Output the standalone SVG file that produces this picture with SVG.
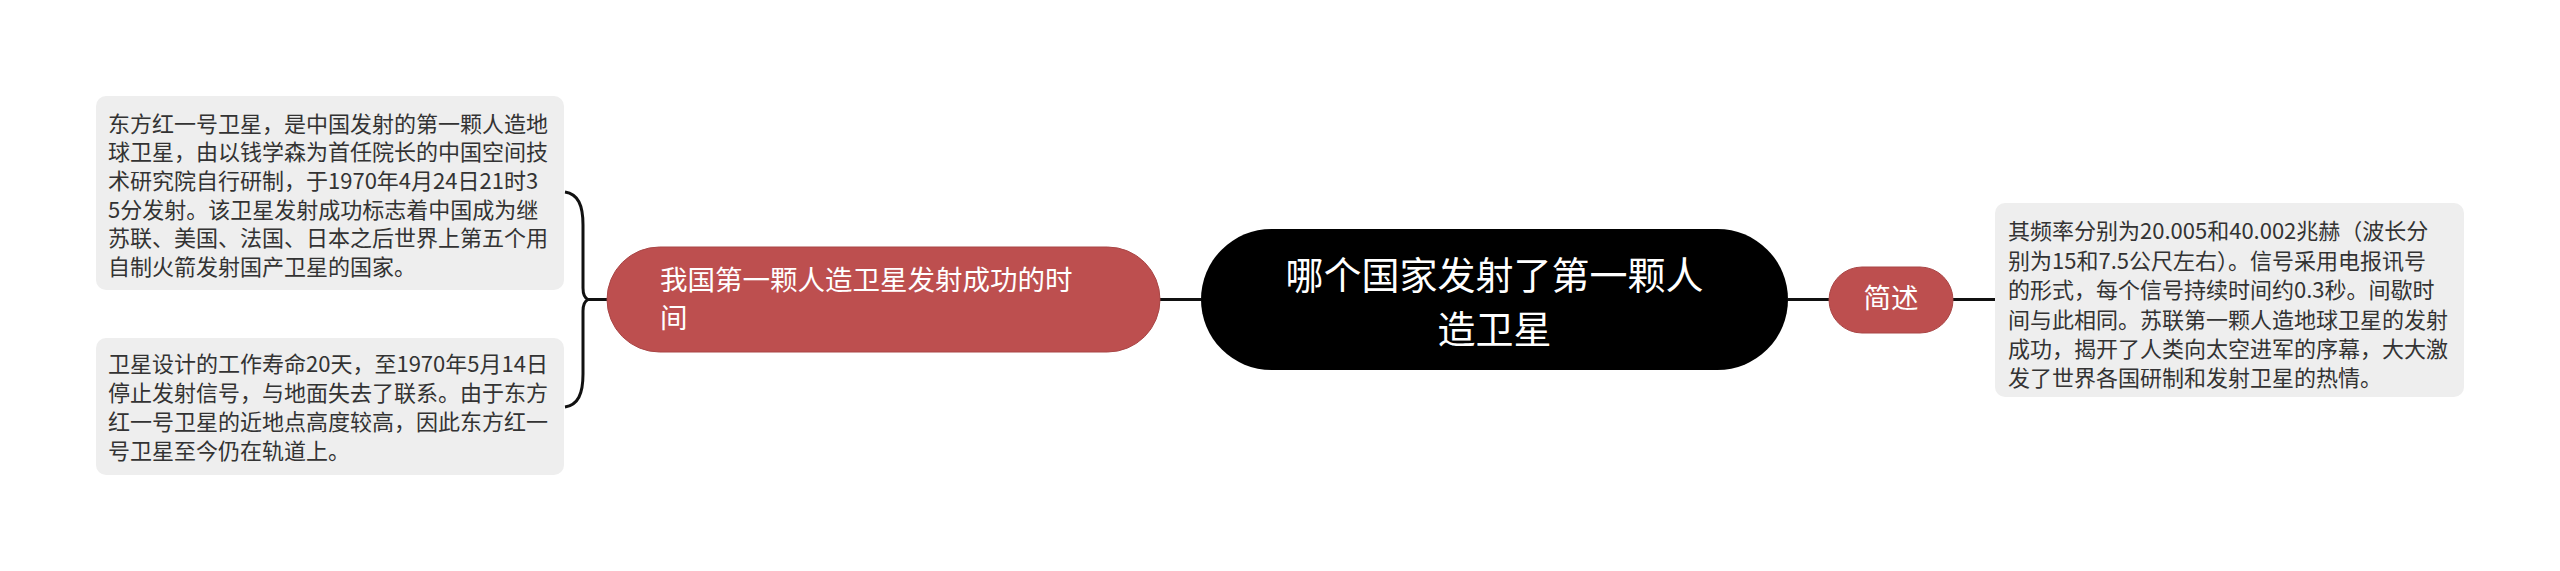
<svg xmlns="http://www.w3.org/2000/svg" width="2560" height="571" viewBox="0 0 2560 571">
<style>
text{font-family:"Noto Sans CJK SC","Noto Sans",sans-serif;}
.leaf rect{fill:#EEEEEE;}
.leaf text{font-size:22px;fill:#333333;}
.sub{fill:#BD4F4F;stroke:#A94646;stroke-width:1;}
.subt{fill:#FFFFFF;font-size:27.5px;}
.conn{fill:none;stroke:#111111;stroke-width:3;}
</style>
<rect width="2560" height="571" fill="#FFFFFF"/>
<g id="connectors">
<path class="conn" d="M1160,299.5 H1201"/>
<path class="conn" d="M1788,299.5 H1829"/>
<path class="conn" d="M1953,299.5 H1995"/>
<path class="conn" d="M607,299.5 H586"/>
<path class="conn" d="M565,192 C578,194 583,205 583,225 V288 Q583,297 588,299.5 Q583,302 583,311 V374 C583,394 578,405 565,407"/>
</g>
<g id="root">
<rect x="1201" y="229" width="587" height="141" rx="70.5" fill="#000000"/>
<text x="1494.5" y="289" font-size="38" fill="#FFFFFF" text-anchor="middle">哪个国家发射了第一颗人</text>
<text x="1494.5" y="343" font-size="38" fill="#FFFFFF" text-anchor="middle">造卫星</text>
</g>
<g id="topic-time">
<rect class="sub" x="607" y="247" width="553" height="105" rx="52.5"/>
<text class="subt" x="660" y="290">我国第一颗人造卫星发射成功的时</text>
<text class="subt" x="660" y="328">间</text>
</g>
<g id="topic-summary">
<rect class="sub" x="1829" y="267" width="124" height="66" rx="33"/>
<text class="subt" x="1891" y="308" text-anchor="middle">简述</text>
</g>
<g id="leaf-1" class="leaf">
<rect x="96" y="96" width="468" height="194" rx="10"/>
<text x="108" y="131.7">东方红一号卫星，是中国发射的第一颗人造地</text>
<text x="108" y="160.3">球卫星，由以钱学森为首任院长的中国空间技</text>
<text x="108" y="188.9">术研究院自行研制，于1970年4月24日21时3</text>
<text x="108" y="217.5">5分发射。该卫星发射成功标志着中国成为继</text>
<text x="108" y="246.1">苏联、美国、法国、日本之后世界上第五个用</text>
<text x="108" y="274.7">自制火箭发射国产卫星的国家。</text>
</g>
<g id="leaf-2" class="leaf">
<rect x="96" y="338" width="468" height="137" rx="10"/>
<text x="108" y="372">卫星设计的工作寿命20天，至1970年5月14日</text>
<text x="108" y="401">停止发射信号，与地面失去了联系。由于东方</text>
<text x="108" y="430">红一号卫星的近地点高度较高，因此东方红一</text>
<text x="108" y="459">号卫星至今仍在轨道上。</text>
</g>
<g id="leaf-3" class="leaf">
<rect x="1995" y="203" width="469" height="194" rx="10"/>
<text x="2008" y="239">其频率分别为20.005和40.002兆赫（波长分</text>
<text x="2008" y="268.5">别为15和7.5公尺左右）。信号采用电报讯号</text>
<text x="2008" y="298">的形式，每个信号持续时间约0.3秒。间歇时</text>
<text x="2008" y="327.5">间与此相同。苏联第一颗人造地球卫星的发射</text>
<text x="2008" y="357">成功，揭开了人类向太空进军的序幕，大大激</text>
<text x="2008" y="386">发了世界各国研制和发射卫星的热情。</text>
</g>
</svg>
